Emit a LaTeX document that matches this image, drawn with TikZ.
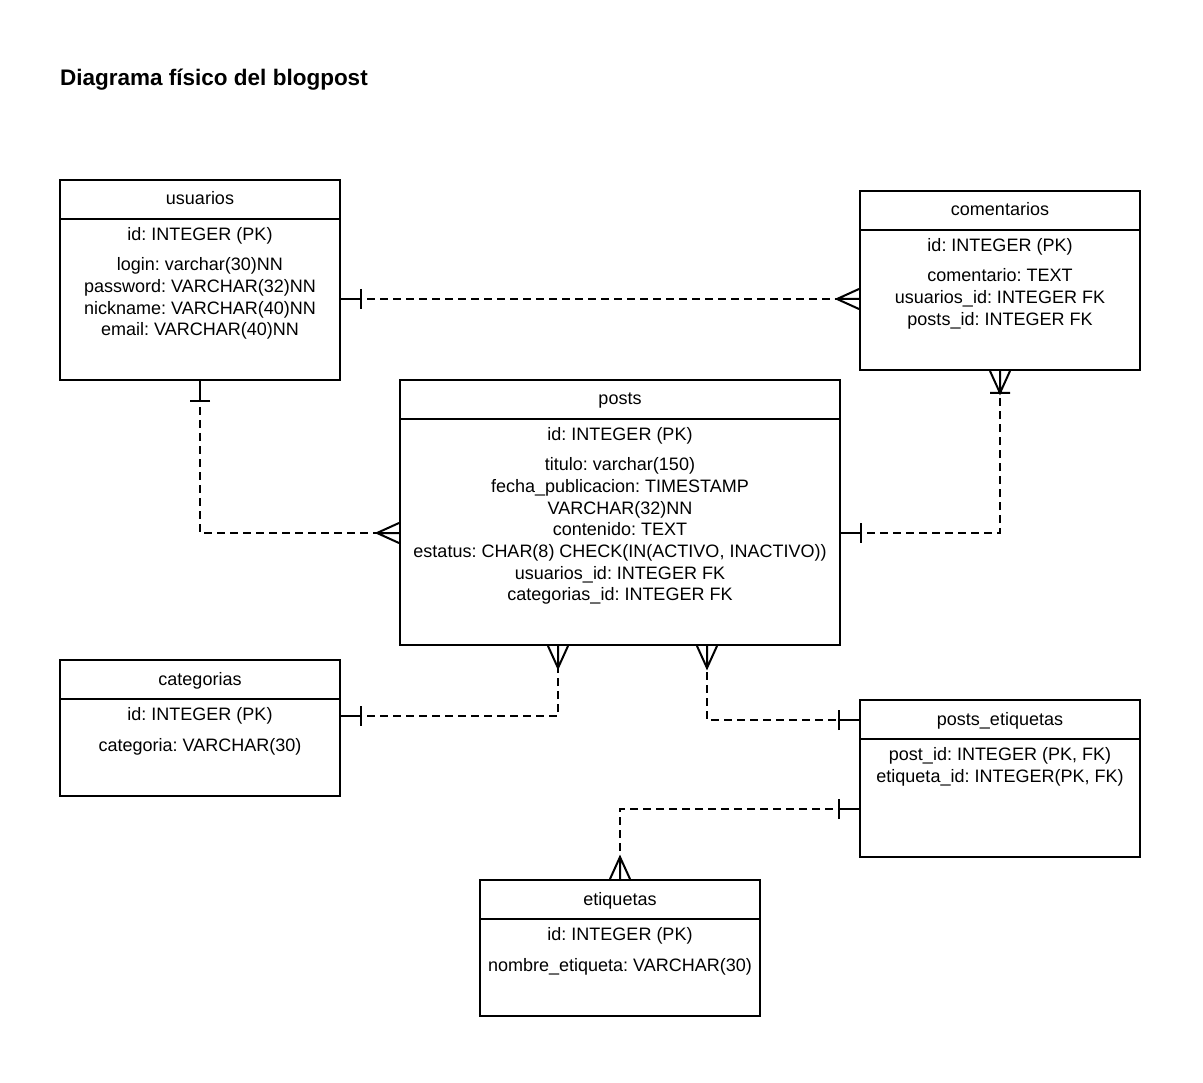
\documentclass[tikz,border=0pt]{standalone}
\usepackage{fontspec}
\setmainfont{Liberation Sans}
\usetikzlibrary{calc}
\frenchspacing
\begin{document}
\frenchspacing
\begin{tikzpicture}[x=1pt,y=-1pt,
  entity/.style={draw, line width=2pt, inner sep=0pt, minimum width=280pt},
  txt/.style={anchor=base, inner sep=0pt, font=\fontsize{18}{21.6}\selectfont},
  rel/.style={line width=2pt, dash pattern=on 8pt off 5pt},
  mk/.style={line width=2pt},
  one/.pic={\draw[mk] (0,0) -- (20,0) (20,-10) -- (20,10);},
  many/.pic={\draw[mk] (0,0) -- (22,0) (0,-10) -- (22,0) -- (0,10);},
  onemany/.pic={\draw[mk] (0,0) -- (22,0) (0,-10) -- (22,0) -- (0,10) (22,-10) -- (22,10);},
]
\useasboundingbox (0,0) rectangle (1203,1083);

\node[anchor=base west, inner sep=0pt, font=\bfseries\fontsize{22.5}{27}\selectfont] (title) at (60,86) {Diagrama físico del blogpost};

% entities
\node[entity, minimum height=200pt] (usuarios) at (200,280) {};
\node[entity, minimum height=179pt] (comentarios) at (1000,280.5) {};
\node[entity, minimum width=440pt, minimum height=265pt] (posts) at (620,512.5) {};
\node[entity, minimum height=136pt] (categorias) at (200,728) {};
\node[entity, minimum height=157pt] (posts_etiquetas) at (1000,778.5) {};
\node[entity, minimum height=136pt] (etiquetas) at (620,948) {};

\foreach \e in {usuarios,comentarios,posts,categorias,posts_etiquetas,etiquetas}
  \draw[mk] ($(\e.north west)+(0,40)$) -- ($(\e.north east)+(0,40)$);

% usuarios
\node[txt] (u0) at (200,205) {usuarios};
\node[txt] (u1) at (200,240.5) {id: INTEGER (PK)};
\node[txt] (u2) at (200,271) {login: varchar(30)NN};
\node[txt] (u3) at (200,292.6) {password: VARCHAR(32)NN};
\node[txt] (u4) at (200,314.2) {nickname: VARCHAR(40)NN};
\node[txt] (u5) at (200,335.8) {email: VARCHAR(40)NN};

% comentarios
\node[txt] (c0) at (1000,216) {comentarios};
\node[txt] (c1) at (1000,251.5) {id: INTEGER (PK)};
\node[txt] (c2) at (1000,282) {comentario: TEXT};
\node[txt] (c3) at (1000,303.6) {usuarios\_id: INTEGER FK};
\node[txt] (c4) at (1000,325.2) {posts\_id: INTEGER FK};

% posts
\node[txt] (p0) at (620,405) {posts};
\node[txt] (p1) at (620,440.5) {id: INTEGER (PK)};
\node[txt] (p2) at (620,471) {titulo: varchar(150)};
\node[txt] (p3) at (620,492.6) {fecha\_publicacion: TIMESTAMP};
\node[txt] (p4) at (620,514.2) {VARCHAR(32)NN};
\node[txt] (p5) at (620,535.8) {contenido: TEXT};
\node[txt] (p6) at (620,557.4) {estatus: CHAR(8) CHECK(IN(ACTIVO, INACTIVO))};
\node[txt] (p7) at (620,579) {usuarios\_id: INTEGER FK};
\node[txt] (p8) at (620,600.6) {categorias\_id: INTEGER FK};

% categorias
\node[txt] (k0) at (200,685) {categorias};
\node[txt] (k1) at (200,720.5) {id: INTEGER (PK)};
\node[txt] (k2) at (200,751) {categoria: VARCHAR(30)};

% posts_etiquetas
\node[txt] (pe0) at (1000,725) {posts\_etiquetas};
\node[txt] (pe1) at (1000,760.5) {post\_id: INTEGER (PK, FK)};
\node[txt] (pe2) at (1000,782.1) {etiqueta\_id: INTEGER(PK, FK)};

% etiquetas
\node[txt] (e0) at (620,905) {etiquetas};
\node[txt] (e1) at (620,940.5) {id: INTEGER (PK)};
\node[txt] (e2) at (620,971) {nombre\_etiqueta: VARCHAR(30)};

% relationships
% usuarios -- comentarios
\draw[rel] ($(usuarios.east)+(0,19)$) -- ($(comentarios.west)+(0,18.5)$);
\pic at ($(usuarios.east)+(0,19)$) {one};
\pic[rotate=180] at ($(comentarios.west)+(0,18.5)$) {many};

% usuarios -- posts
\draw[rel] (usuarios.south) |- ($(posts.west)+(0,20.5)$);
\pic[rotate=-90] at (usuarios.south) {one};
\pic[rotate=180] at ($(posts.west)+(0,20.5)$) {many};

% posts -- comentarios
\draw[rel] ($(posts.east)+(0,20.5)$) -| (comentarios.south);
\pic at ($(posts.east)+(0,20.5)$) {one};
\pic[rotate=-90] at (comentarios.south) {onemany};

% categorias -- posts
\draw[rel] ($(categorias.east)+(0,-12)$) -| ($(posts.south)+(-62,0)$);
\pic at ($(categorias.east)+(0,-12)$) {one};
\pic[rotate=-90] at ($(posts.south)+(-62,0)$) {many};

% posts -- posts_etiquetas
\draw[rel] ($(posts.south)+(87,0)$) |- ($(posts_etiquetas.west)+(0,-58.5)$);
\pic[rotate=-90] at ($(posts.south)+(87,0)$) {many};
\pic[rotate=180] at ($(posts_etiquetas.west)+(0,-58.5)$) {one};

% posts_etiquetas -- etiquetas
\draw[rel] ($(posts_etiquetas.west)+(0,30.5)$) -| (etiquetas.north);
\pic[rotate=180] at ($(posts_etiquetas.west)+(0,30.5)$) {one};
\pic[rotate=90] at (etiquetas.north) {many};
\end{tikzpicture}
\end{document}
